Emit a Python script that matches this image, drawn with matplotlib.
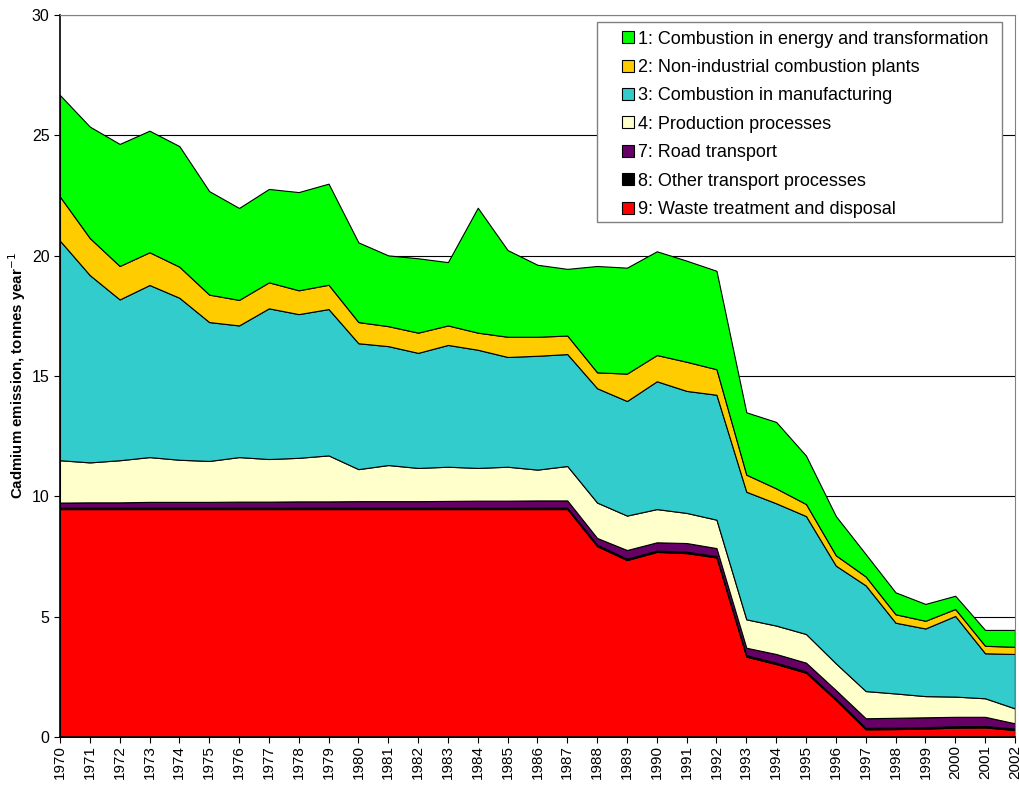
import numpy as np
import matplotlib.pyplot as plt
from matplotlib.patches import Rectangle

plt.rcParams['font.family'] = ['Liberation Sans', 'DejaVu Sans']

# -------------------------------------------------
# Data: cadmium emissions by sector, tonnes per year
# -------------------------------------------------
years = list(range(1970, 2003))

energy = [4.22, 4.63, 5.07, 5.05, 5.01, 4.30, 3.82, 3.88, 4.08, 4.20, 3.31,
          2.94, 3.09, 2.63, 5.19, 3.60, 2.99, 2.77, 4.42, 4.40, 4.31, 4.20,
          4.09, 2.59, 2.76, 2.01, 1.63, 0.93, 0.91, 0.70, 0.55, 0.66, 0.70]
non_industrial = [1.83, 1.54, 1.39, 1.36, 1.29, 1.14, 1.06, 1.08, 0.99, 1.01, 0.88,
                  0.83, 0.84, 0.81, 0.71, 0.84, 0.79, 0.77, 0.66, 1.14, 1.09, 1.21,
                  1.06, 0.71, 0.62, 0.50, 0.43, 0.37, 0.35, 0.32, 0.29, 0.31, 0.30]
manufacturing = [9.12, 7.78, 6.68, 7.15, 6.73, 5.77, 5.47, 6.26, 5.97, 6.08, 5.23,
                 4.94, 4.78, 5.06, 4.91, 4.56, 4.73, 4.65, 4.75, 4.76, 5.31, 5.07,
                 5.19, 5.30, 5.08, 4.90, 4.06, 4.39, 2.94, 2.81, 3.35, 1.87, 2.26]
production = [1.76, 1.66, 1.75, 1.86, 1.75, 1.70, 1.85, 1.77, 1.81, 1.91, 1.33,
              1.50, 1.38, 1.42, 1.36, 1.41, 1.28, 1.43, 1.47, 1.43, 1.38, 1.25,
              1.18, 1.18, 1.18, 1.19, 1.11, 1.13, 1.01, 0.88, 0.84, 0.77, 0.62]
road = [0.21, 0.22, 0.22, 0.24, 0.24, 0.24, 0.25, 0.25, 0.26, 0.26, 0.27,
        0.27, 0.27, 0.28, 0.29, 0.29, 0.30, 0.30, 0.28, 0.36, 0.34, 0.36,
        0.33, 0.31, 0.36, 0.36, 0.35, 0.40, 0.41, 0.41, 0.39, 0.38, 0.22]
other_transport = [0.06] * 33
waste = [9.47] * 18 + [7.93, 7.35, 7.69, 7.64, 7.46, 3.34, 3.03, 2.67, 1.54,
                       0.32, 0.33, 0.35, 0.39, 0.40, 0.29]

# bottom to top
series = [waste, other_transport, road, production,
          manufacturing, non_industrial, energy]
labels = ["9: Waste treatment and disposal",
          "8: Other transport processes",
          "7: Road transport",
          "4: Production processes",
          "3: Combustion in manufacturing",
          "2: Non-industrial combustion plants",
          "1: Combustion in energy and transformation"]
colors = ["#FF0000", "#000000", "#660066", "#FFFFCC",
          "#33CCCC", "#FFCC00", "#00FF00"]

# -------------------------------------------------
# Plot
# -------------------------------------------------
fig = plt.figure(figsize=(10.2, 7.86), dpi=100)
ax = fig.add_axes([0.0588, 0.0623, 0.9362, 0.9187])

ax.stackplot(years, *series, labels=labels, colors=colors,
             edgecolor="black", linewidth=0.8, zorder=2)

ax.set_xlim(1970, 2002)
ax.set_ylim(0, 30)
ax.set_xticks(years)
ax.set_xticklabels([str(y) for y in years], rotation=90, fontsize=11)
ax.set_yticks(range(0, 31, 5))
ax.tick_params(axis="y", labelsize=11.5, length=4, direction="out")
ax.tick_params(axis="x", length=4, direction="out", pad=2)

ax.grid(axis="y", color="black", linewidth=0.8, zorder=1)
ax.set_axisbelow(True)

for side in ["top", "right"]:
    ax.spines[side].set_color("#808080")
ax.spines["left"].set_linewidth(1.2)
ax.spines["bottom"].set_linewidth(1.2)

ax.set_ylabel("Cadmium emission, tonnes year$^{-1}$", fontsize=10.8,
              fontweight="bold", labelpad=3)

# legend: no own frame, a wider box is drawn behind it
handles, labs = ax.get_legend_handles_labels()
leg = ax.legend(handles[::-1], labs[::-1], loc="upper right",
                bbox_to_anchor=(0.979, 0.987), fontsize=13, frameon=False,
                handlelength=0.65, handleheight=0.65, handletextpad=0.25,
                labelspacing=0.63, borderpad=0.35, borderaxespad=0)
leg.set_zorder(6)
for h in leg.legend_handles:
    h.set_edgecolor("black")
    h.set_linewidth(0.8)

fig.canvas.draw()
bb = leg.get_window_extent()
box = Rectangle((bb.x0 - 19, bb.y0 + 2), bb.width + 26, bb.height,
                transform=None, facecolor="white", edgecolor="#808080",
                linewidth=1.0, zorder=5)
ax.add_artist(box)

plt.savefig("out.png", dpi=100)
